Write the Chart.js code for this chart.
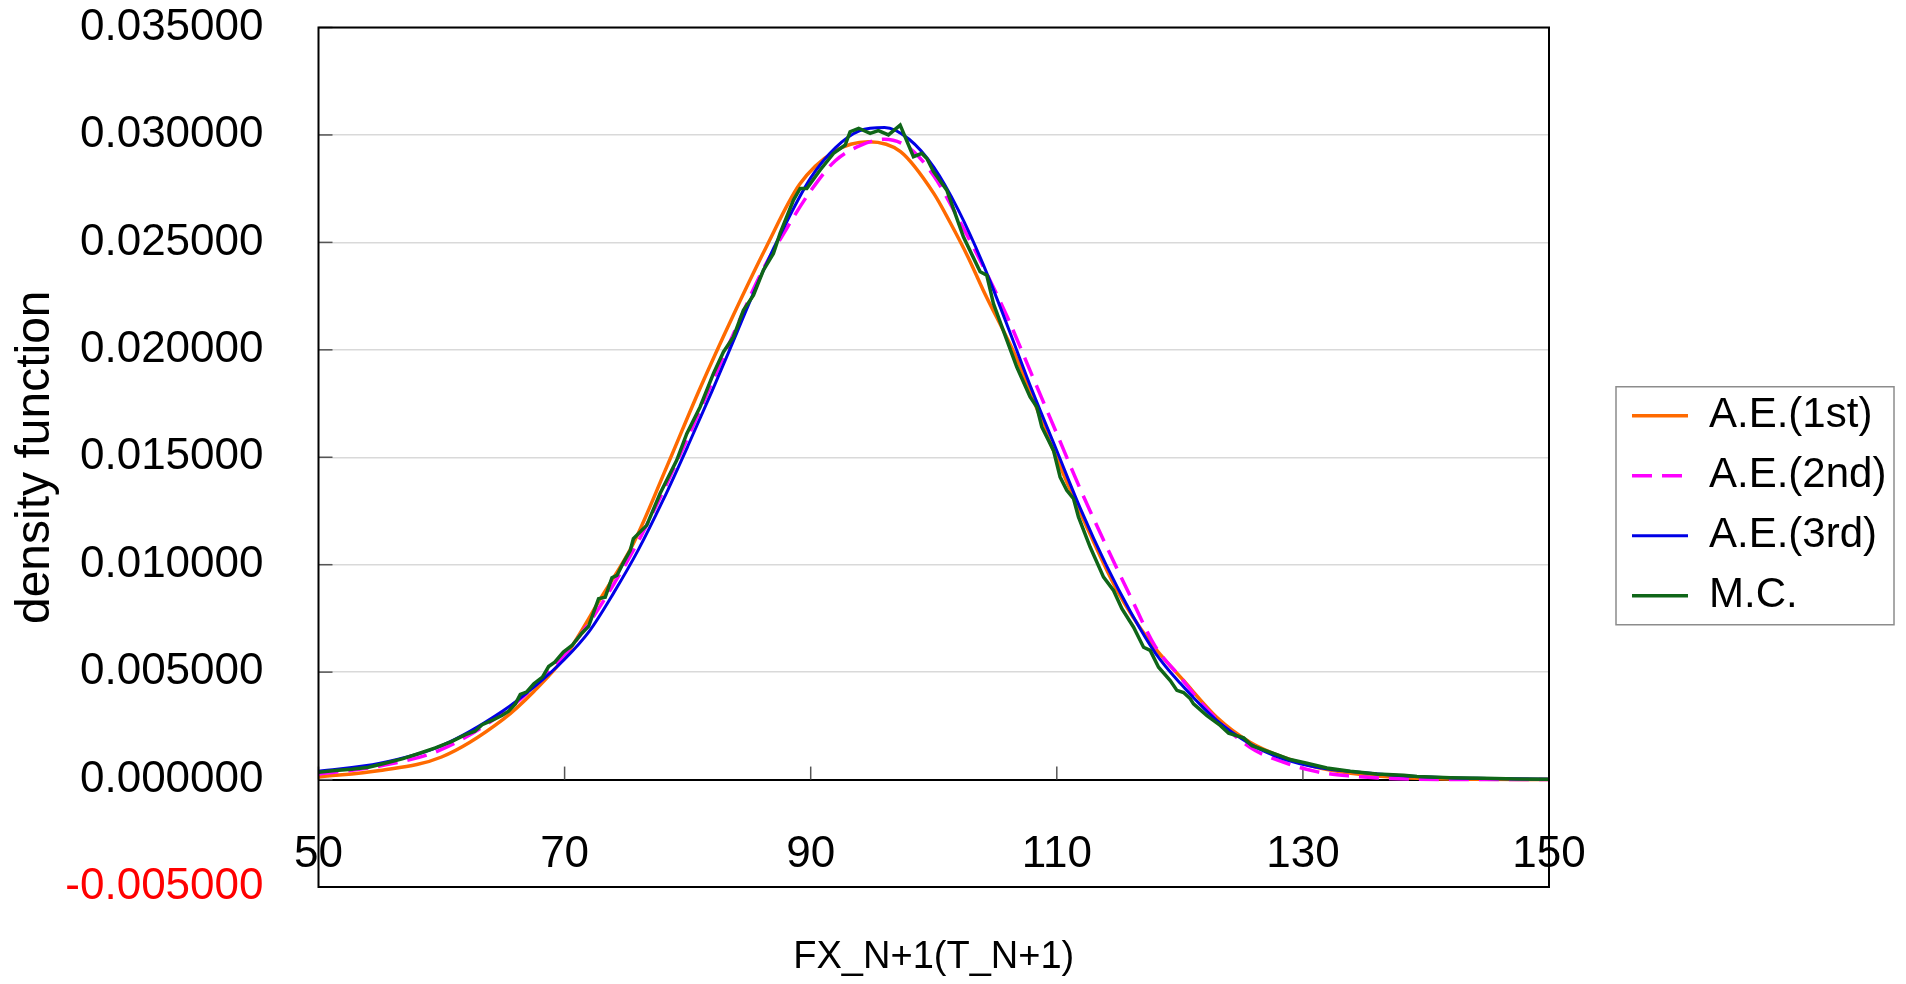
<!DOCTYPE html>
<html>
<head>
<meta charset="utf-8">
<script src="https://cdn.jsdelivr.net/npm/chart.js@4.4.1/dist/chart.umd.min.js"></script>
<style>
  html, body { margin: 0; padding: 0; background: #ffffff; }
  #wrap { width: 1906px; height: 984px; position: relative; }
</style>
</head>
<body>
<div id="wrap"><canvas id="c"></canvas></div>
<script>
// ---- data ----
const seriesNames = ['A.E.(1st)', 'A.E.(2nd)', 'A.E.(3rd)', 'M.C.'];

const ae1X = [50, 55, 60, 65, 67.5, 70, 73, 75.6, 78.3, 81, 83.7, 86.4, 89.1, 91.9, 94.7, 97.3, 100, 101.3, 102.8, 104, 106.8, 109.5, 112.2, 114.9, 117.6, 120.3, 123, 125.7, 128.4, 131.1, 133.9, 136.6, 139.3, 144.7, 150];
const ae1Y = [0.00012, 0.00042, 0.00105, 0.0028, 0.0041, 0.0057, 0.0085, 0.0110, 0.01455, 0.0182, 0.0216, 0.0248, 0.0277, 0.02922, 0.02968, 0.02922, 0.02728, 0.02596, 0.0243, 0.0228, 0.01952, 0.01563, 0.01206, 0.0088, 0.0064, 0.00461, 0.0029, 0.00174, 0.00104, 0.00057, 0.00029, 0.00014, 0.00006, 0.00001, 0];

const ae2X = [50, 55, 60, 65, 67.5, 70, 72, 74, 76, 78, 80, 82, 84, 86, 88, 90, 92, 94, 96, 98, 100, 102, 104, 106, 108, 110, 112, 114, 116, 118, 120, 122, 125.7, 128.4, 131.1, 133.9, 136.6, 139.3, 145, 150];
const ae2Y = [0.00025, 0.00063, 0.0014, 0.0031, 0.0043, 0.0058, 0.0073, 0.0091, 0.0111, 0.0134, 0.0159, 0.0185, 0.0211, 0.0236, 0.0256, 0.0274, 0.0288, 0.0295, 0.0298, 0.0294, 0.0281, 0.0261, 0.0239, 0.0215, 0.0188, 0.0161, 0.0134, 0.0109, 0.0085, 0.0062, 0.0048, 0.0034, 0.0015, 0.00081, 0.00037, 0.00016, 0.00006, 0.00002, 0, 0];

const ae3X = [50, 55, 60, 65, 67.5, 70, 72, 74, 76, 78, 80, 82, 84, 86, 88, 90, 92, 94, 96, 98, 100, 102, 104, 106, 108, 110, 112, 114, 116, 118, 120, 123, 125.7, 128.4, 131.1, 133.9, 136.6, 139.3, 142, 145, 150];
const ae3Y = [0.00039, 0.00076, 0.00158, 0.0032, 0.0043, 0.0056, 0.0069, 0.0087, 0.0107, 0.0130, 0.0155, 0.0181, 0.0208, 0.0235, 0.0259, 0.0280, 0.0294, 0.0302, 0.03035, 0.0298, 0.0285, 0.0265, 0.0240, 0.0211, 0.0181, 0.0153, 0.0125, 0.0100, 0.0078, 0.0059, 0.0045, 0.00275, 0.00166, 0.00096, 0.00057, 0.00037, 0.00023, 0.00014, 0.00008, 0.00005, 0.00001];

const mcX = [50, 51.36, 52.7, 54.07, 55.4, 56.8, 58.1, 59.5, 60.8, 61.9, 62.7, 63.3, 64.1, 64.9, 65.45, 66, 66.4, 66.9, 67.5, 68.2, 68.7, 69.2, 69.9, 70.6, 71.4, 71.95, 72.76, 73.3, 73.85, 74.25, 74.8, 75.34, 75.59, 76.67, 77.76, 79.11, 79.93, 81.01, 82.1, 82.91, 83.72, 84.53, 85.35, 86.16, 86.97, 87.51, 88.6, 89.14, 89.68, 90.77, 91.85, 92.8, 93.2, 93.9, 94.83, 95.5, 96.32, 97.27, 98.35, 99.03, 99.44, 99.98, 101.06, 102.41, 103.77, 104.31, 104.85, 105.94, 106.75, 107.83, 108.38, 108.78, 109.73, 110.27, 110.81, 111.36, 111.76, 112.71, 113.8, 114.61, 115.29, 116.24, 117.05, 117.59, 118.27, 119.22, 119.76, 120.3, 120.85, 121.11, 122.2, 123.28, 123.96, 125.18, 125.86, 126.8, 127.89, 128.97, 130.33, 131.95, 133.85, 136.02, 138.19, 139.27, 141.98, 144.69, 147.4, 150];
const mcY = [0.00034, 0.00042, 0.00048, 0.00057, 0.00076, 0.00096, 0.0012, 0.00147, 0.00177, 0.00208, 0.00225, 0.00255, 0.00275, 0.00298, 0.00318, 0.00352, 0.00396, 0.00407, 0.00446, 0.00477, 0.00526, 0.00546, 0.00593, 0.00624, 0.00681, 0.00713, 0.00842, 0.00849, 0.00939, 0.0095, 0.01012, 0.01067, 0.01121, 0.01183, 0.01331, 0.01486, 0.0161, 0.01734, 0.0189, 0.0199, 0.0206, 0.02184, 0.02254, 0.02371, 0.02448, 0.02542, 0.02697, 0.02751, 0.02751, 0.02837, 0.02914, 0.02953, 0.03015, 0.03031, 0.03007, 0.0302, 0.0300, 0.03046, 0.02899, 0.02914, 0.0289, 0.02829, 0.02743, 0.02526, 0.02363, 0.02347, 0.02215, 0.02045, 0.0192, 0.01781, 0.01734, 0.01641, 0.01532, 0.01408, 0.01346, 0.01307, 0.01222, 0.01082, 0.00942, 0.0088, 0.00795, 0.00709, 0.00616, 0.00601, 0.00523, 0.00461, 0.00415, 0.00405, 0.00376, 0.00352, 0.00298, 0.00252, 0.00216, 0.00194, 0.00158, 0.00138, 0.00116, 0.00093, 0.00076, 0.00054, 0.00039, 0.00026, 0.0002, 0.00014, 0.00009, 0.00006, 0.00003, 0.00001];

const xTicks = [50, 70, 90, 110, 130, 150];
const yTicks = [-0.005, 0, 0.005, 0.010, 0.015, 0.020, 0.025, 0.030, 0.035];
const xTitle = 'FX_N+1(T_N+1)';
const yTitle = 'density function';

// ---- helpers ----
const pts = (xs, ys) => xs.map((x, i) => ({ x: x, y: ys[i] }));
const FONT = 'Liberation Sans, Arial, sans-serif';

const decorPlugin = {
  id: 'decor',
  afterLayout(chart) {
    const lg = chart.legend;
    if (!lg) return;
    const left = chart.chartArea.right + 65;
    lg.left = left;
    lg.right = chart.width;
    lg.width = lg.right - left;
  },
  beforeDatasetsDraw(chart) {
    const { ctx, chartArea: a, scales: { x, y } } = chart;
    ctx.save();
    ctx.strokeStyle = '#555555';
    ctx.lineWidth = 1.5;
    y.ticks.forEach(t => {
      const py = y.getPixelForValue(t.value);
      ctx.beginPath(); ctx.moveTo(a.left, py); ctx.lineTo(a.left + 14, py); ctx.stroke();
    });
    const y0 = y.getPixelForValue(0);
    x.ticks.forEach(t => {
      const px = x.getPixelForValue(t.value);
      ctx.beginPath(); ctx.moveTo(px, y0); ctx.lineTo(px, y0 - 13); ctx.stroke();
    });
    ctx.restore();
  },
  afterDraw(chart) {
    const { ctx, chartArea: a } = chart;
    ctx.save();
    ctx.strokeStyle = '#000000';
    ctx.lineWidth = 2;
    ctx.strokeRect(a.left, a.top, a.right - a.left, a.bottom - a.top);
    const hb = chart.legend && chart.legend.legendHitBoxes;
    if (hb && hb.length) {
      const first = hb[0], last = hb[hb.length - 1];
      const bx = first.left - 16, by = first.top - 8;
      const bw = 278, bh = (last.top + last.height) - by + 8;
      ctx.strokeStyle = '#8c8c8c';
      ctx.lineWidth = 1.5;
      ctx.strokeRect(bx, by, bw, bh);
    }
    ctx.restore();
  }
};

const common = { pointRadius: 0, pointHoverRadius: 0, fill: false };

new Chart(document.getElementById('c'), {
  type: 'line',
  data: {
    datasets: [
      Object.assign({ label: seriesNames[0], data: pts(ae1X, ae1Y), borderColor: '#FF6A00', backgroundColor: '#FF6A00', borderWidth: 3.5, cubicInterpolationMode: 'monotone', order: 4 }, common),
      Object.assign({ label: seriesNames[1], data: pts(ae2X, ae2Y), borderColor: '#FF00FF', backgroundColor: '#FF00FF', borderWidth: 3.5, borderDash: [20, 10], cubicInterpolationMode: 'monotone', order: 3 }, common),
      Object.assign({ label: seriesNames[2], data: pts(ae3X, ae3Y), borderColor: '#0000E6', backgroundColor: '#0000E6', borderWidth: 3, cubicInterpolationMode: 'monotone', order: 2 }, common),
      Object.assign({ label: seriesNames[3], data: pts(mcX, mcY), borderColor: '#0F6618', backgroundColor: '#0F6618', borderWidth: 3.5, tension: 0, order: 1 }, common)
    ]
  },
  options: {
    responsive: true,
    maintainAspectRatio: false,
    animation: false,
    events: [],
    layout: { padding: { top: 27.5, left: 0, right: 157, bottom: 0 } },
    plugins: {
      tooltip: { enabled: false },
      legend: {
        position: 'right',
        align: 'center',
        maxWidth: 200,
        labels: {
          usePointStyle: true,
          pointStyle: 'line',
          pointStyleWidth: 56,
          boxWidth: 56,
          padding: 18,
          color: '#000000',
          font: { family: FONT, size: 42 },
          generateLabels: chart => Chart.defaults.plugins.legend.labels.generateLabels(chart).map(it => {
            const ds = chart.data.datasets[it.datasetIndex];
            it.lineDash = ds.borderDash || [];
            it.lineWidth = ds.borderWidth;
            it.strokeStyle = ds.borderColor;
            return it;
          }),
          sort: (a, b) => a.datasetIndex - b.datasetIndex
        }
      }
    },
    scales: {
      x: {
        type: 'linear',
        position: 'bottom',
        min: xTicks[0],
        max: xTicks[xTicks.length - 1],
        afterBuildTicks: s => { s.ticks = xTicks.map(v => ({ value: v })); },
        afterFit: s => { s.height = 97; },
        grid: { display: false, drawTicks: false },
        border: { display: false },
        ticks: {
          mirror: true,
          padding: 5.6,
          color: '#000000',
          font: { family: FONT, size: 44 },
          maxRotation: 0,
          autoSkip: false,
          callback: v => String(v)
        },
        title: {
          display: true,
          text: xTitle,
          color: '#000000',
          font: { family: FONT, size: 38 },
          padding: { top: 0, bottom: 4 }
        }
      },
      y: {
        type: 'linear',
        position: 'left',
        min: yTicks[0],
        max: yTicks[yTicks.length - 1],
        afterBuildTicks: s => { s.ticks = yTicks.map(v => ({ value: v })); },
        afterFit: s => { s.width = 318.5; },
        grid: {
          drawTicks: true,
          tickLength: 55,
          tickColor: 'rgba(0,0,0,0)',
          color: c => (c.tick && Math.abs(c.tick.value) < 1e-9) ? '#000000' : '#d9d9d9',
          lineWidth: c => (c.tick && Math.abs(c.tick.value) < 1e-9) ? 2 : 1.5
        },
        border: { display: false },
        ticks: {
          padding: 0,
          font: { family: FONT, size: 44 },
          color: c => (c.tick && c.tick.value < 0) ? '#FF0000' : '#000000',
          callback: v => (v < 0 ? '-' : '') + Math.abs(v).toFixed(6)
        },
        title: {
          display: true,
          text: yTitle,
          color: '#000000',
          font: { family: FONT, size: 48 },
          padding: { top: 7, bottom: 0 }
        }
      }
    }
  },
  plugins: [decorPlugin]
});
</script>
</body>
</html>
